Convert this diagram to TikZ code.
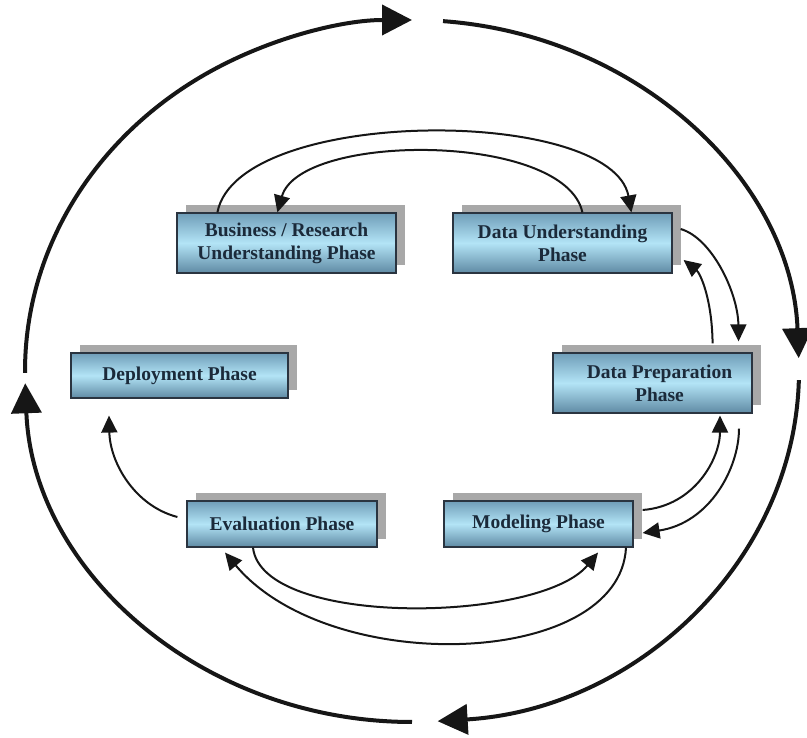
\documentclass[tikz,border=0pt]{standalone}
\usepackage{fontspec}
\setmainfont{Liberation Serif}
\usetikzlibrary{arrows.meta,shadows}
\definecolor{boxtop}{HTML}{6F9DB8}
\definecolor{boxmid}{HTML}{B3E4F6}
\definecolor{boxbot}{HTML}{5F8AA4}
\definecolor{boxline}{HTML}{2A3440}
\definecolor{boxtext}{HTML}{1B2A3A}
\definecolor{shadowgray}{HTML}{A8A8A8}
\definecolor{ink}{HTML}{161616}
\tikzset{
  phase/.style={rectangle, draw=boxline, line width=1.2pt,
    top color=boxtop, bottom color=boxbot, middle color=boxmid,
    general shadow={fill=shadowgray, shadow xshift=9pt, shadow yshift=8pt},
    text=boxtext, align=center, inner sep=0pt,
    font=\fontsize{19.5}{23}\selectfont\bfseries},
  link/.style={draw=ink, line width=2pt, -{Triangle[length=17pt,width=16pt]}},
  cycle/.style={draw=ink, line width=4pt, -{Triangle[length=30pt,width=30pt]}}
}
\begin{document}
\begin{tikzpicture}[x=1pt,y=1pt]
\useasboundingbox (0,0) rectangle (807,738);
% phase boxes
\node[phase, minimum width=219pt, minimum height=60pt] (bus) at (286.5,495) {Business / Research\\Understanding Phase};
\node[phase, minimum width=219pt, minimum height=60pt] (du) at (562.5,495) {Data Understanding\\Phase};
\node[phase, minimum width=199pt, minimum height=60pt] (dp) at (652.5,355) {\hspace*{14pt}Data Preparation\\\hspace*{14pt}Phase};
\node[phase, minimum width=217pt, minimum height=45pt] (dep) at (179.5,362.5) {Deployment Phase};
\node[phase, minimum width=190pt, minimum height=46pt] (ev) at (282,214) {Evaluation Phase};
\node[phase, minimum width=189pt, minimum height=46pt] (mod) at (538.5,214) {Modeling Phase};

% outer cycle
\coordinate (ctr) at (412,367);
\coordinate (c1s) at ([shift={(180.3:387 and 351)}]ctr);
\coordinate (c2s) at ([shift={(85.4:387 and 351)}]ctr);
\coordinate (c3s) at ([shift={(-1.5:387 and 351)}]ctr);
\coordinate (c4s) at ([shift={(-90:387 and 351)}]ctr);
\draw[cycle] (c1s) arc[start angle=180.3, end angle=90, x radius=387, y radius=351];
\draw[cycle] (c2s) arc[start angle=85.4, end angle=2.1, x radius=387, y radius=351];
\draw[cycle] (c3s) arc[start angle=-1.5, end angle=-86.2, x radius=387, y radius=351];
\draw[cycle] (c4s) arc[start angle=-90, end angle=-178, x radius=387, y radius=351];

% Business <-> Data Understanding
\draw[link] ([xshift=41pt]bus.north west) .. controls (238,632) and (612,632) .. ([xshift=179pt]du.north west);
\draw[link] ([xshift=130pt]du.north west) .. controls (565,606) and (300,606) .. ([xshift=101pt]bus.north west);

% Data Understanding <-> Data Preparation
\draw[link] ([xshift=8pt,yshift=14pt]du.east) .. controls (712,500) and (738,445) .. ([xshift=-14pt,yshift=11pt]dp.north east);
\draw[link] ([xshift=-40pt,yshift=9pt]dp.north east) .. controls (712,440) and (700,465) .. ([xshift=11pt,yshift=-17pt]du.east);

% Data Preparation <-> Modeling
\draw[link] ([xshift=9pt,yshift=14pt]mod.east) .. controls (695,232) and (720,280) .. ([xshift=67.5pt,yshift=-2pt]dp.south);
\draw[link] ([xshift=86.5pt,yshift=-15pt]dp.south) .. controls (739,270) and (710,215) .. ([xshift=9pt,yshift=-9pt]mod.east);

% Evaluation -> Deployment
\draw[link] ([xshift=-9pt,yshift=7pt]ev.west) .. controls (135,232) and (110,275) .. ([xshift=-70.5pt,yshift=-17pt]dep.south);

% Evaluation <-> Modeling
\draw[link] ([xshift=-29pt]ev.south) .. controls (262,110) and (540,115) .. ([xshift=59.5pt,yshift=-5pt]mod.south);
\draw[link] ([xshift=87.5pt]mod.south) .. controls (620,70) and (330,60) .. ([xshift=-57pt,yshift=-5pt]ev.south);
\end{tikzpicture}
\end{document}
